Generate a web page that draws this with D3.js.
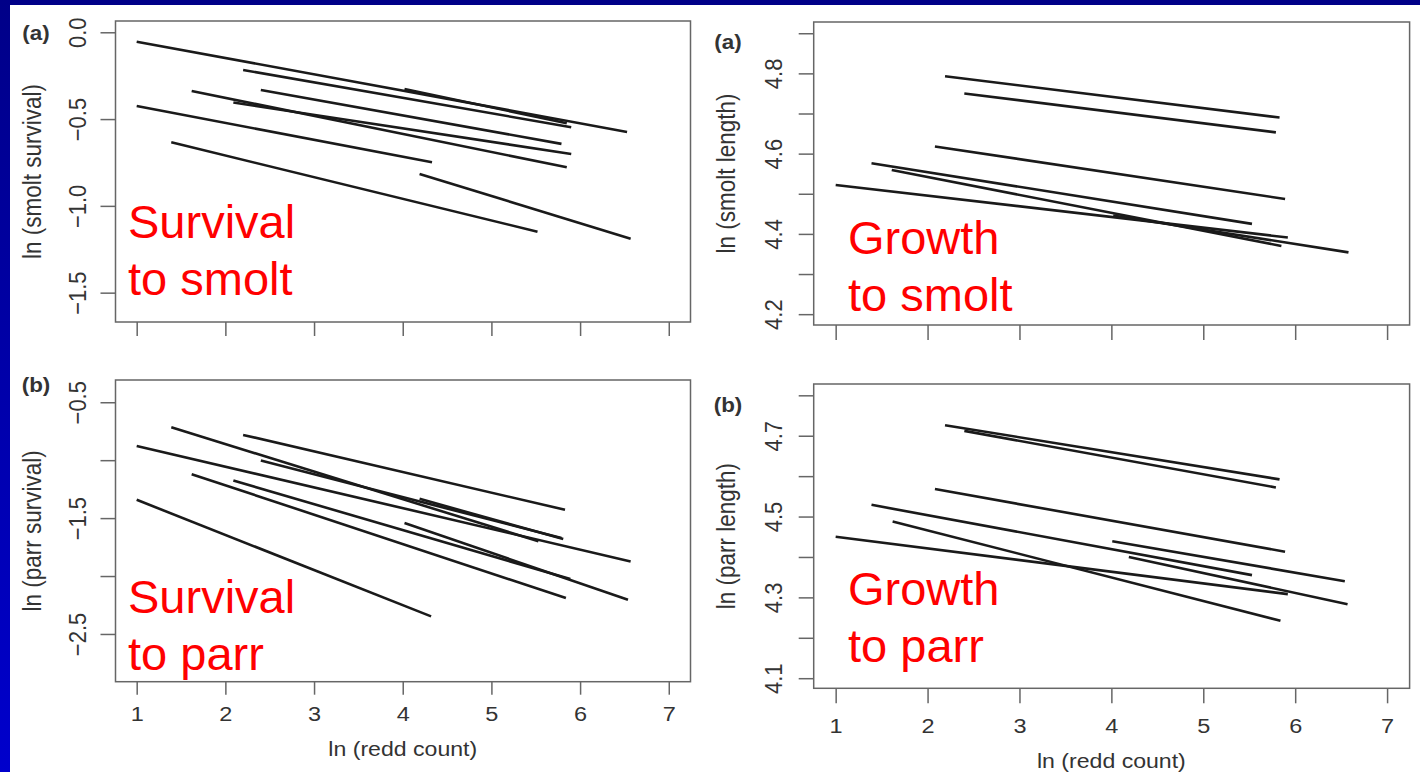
<!DOCTYPE html>
<html>
<head>
<meta charset="utf-8">
<style>
  body { margin: 0; background: #fff; }
  svg { display: block; }
  text { font-family: "Liberation Sans", Arial, sans-serif; }
</style>
</head>
<body>
<svg width="1420" height="772"></svg>
<script src="https://cdnjs.cloudflare.com/ajax/libs/d3/7.8.5/d3.min.js"></script>
<script>

// ---- data: each row is one fitted line, [x start, y start, x end, y end] ----
var xTicks = [1, 2, 3, 4, 5, 6, 7];

var smoltSurvival = [
  [1.00, -0.054, 6.53, -0.574],
  [2.20, -0.217, 5.90, -0.547],
  [4.02, -0.327, 5.85, -0.524],
  [2.40, -0.332, 5.79, -0.643],
  [1.62, -0.338, 5.85, -0.778],
  [2.09, -0.405, 5.90, -0.701],
  [1.00, -0.425, 4.33, -0.749],
  [1.39, -0.634, 5.52, -1.149],
  [4.19, -0.816, 6.57, -1.189]
];

var parrSurvival = [
  [1.00, -0.877, 6.57, -1.874],
  [1.39, -0.716, 5.53, -1.700],
  [2.20, -0.782, 5.83, -1.428],
  [2.40, -1.003, 5.79, -1.672],
  [4.19, -1.334, 5.81, -1.680],
  [1.62, -1.121, 5.84, -2.190],
  [2.09, -1.176, 5.89, -2.026],
  [4.02, -1.543, 6.54, -2.204],
  [1.00, -1.342, 4.32, -2.348]
];

var smoltLength = [
  [2.19, 4.793, 5.83, 4.690],
  [2.40, 4.750, 5.79, 4.653],
  [2.08, 4.618, 5.89, 4.487],
  [1.39, 4.576, 5.53, 4.425],
  [1.61, 4.559, 5.85, 4.370],
  [1.00, 4.522, 5.92, 4.391],
  [4.02, 4.446, 6.58, 4.354]
];

var parrLength = [
  [2.19, 4.726, 5.83, 4.592],
  [2.40, 4.712, 5.79, 4.572],
  [2.08, 4.568, 5.89, 4.413],
  [1.39, 4.529, 5.53, 4.355],
  [1.62, 4.488, 5.84, 4.242],
  [1.00, 4.450, 5.92, 4.308],
  [4.01, 4.439, 6.54, 4.340],
  [4.19, 4.400, 6.57, 4.283]
];

var smoltSurvTicks = [0, -0.5, -1.0, -1.5];
var parrSurvTicks = [-0.5, -1.0, -1.5, -2.0, -2.5];
var parrSurvLabels = [-0.5, -1.5, -2.5];
var smoltLenTicks = [4.2, 4.3, 4.4, 4.5, 4.6, 4.7, 4.8, 4.9];
var smoltLenLabels = [4.2, 4.4, 4.6, 4.8];
var parrLenTicks = [4.1, 4.2, 4.3, 4.4, 4.5, 4.6, 4.7, 4.8];
var parrLenLabels = [4.1, 4.3, 4.5, 4.7];

var xTitle = "ln (redd count)";

// ---- layout ----
var svg = d3.select("svg");
var xDomain = [0.761, 7.245];
var stretch = 1.12;   // the R figure was pasted in a bit wider than tall

var defs = svg.append("defs");
var grad = defs.append("linearGradient").attr("id", "bg")
    .attr("x1", 0).attr("y1", 0).attr("x2", 0).attr("y2", 1);
grad.append("stop").attr("offset", "0%").attr("stop-color", "#000088");
grad.append("stop").attr("offset", "100%").attr("stop-color", "#0000cc");

svg.append("rect").attr("width", 1420).attr("height", 772).attr("fill", "url(#bg)");
svg.append("rect").attr("x", 10).attr("y", 5).attr("width", 1410).attr("height", 767).attr("fill", "#fff");

var panels = [
  { data: smoltSurvival, l: 115.5, r: 690.5, t: 21, b: 322, yDomain: [-1.669, 0.065],
    yTicks: smoltSurvTicks, yLabels: smoltSurvTicks, fmt: ".1f", yTitle: "ln (smolt survival)",
    tag: "(a)", tagX: 36, tagY: 33, yLabX: -38.5, yTitleX: -84, xTick: 14, xPad: 0, xLabels: false,
    note: ["Survival", "to smolt"], noteX: 128, noteY: 238 },
  { data: parrSurvival, l: 115.5, r: 690.5, t: 380, b: 681.7, yDomain: [-2.912, -0.308],
    yTicks: parrSurvTicks, yLabels: parrSurvLabels, fmt: ".1f", yTitle: "ln (parr survival)",
    tag: "(b)", tagX: 36, tagY: 385, yLabX: -38.5, yTitleX: -84, xTick: 13, xPad: 11, xLabels: true,
    xTitleY: 748, note: ["Survival", "to parr"], noteX: 128, noteY: 613 },
  { data: smoltLength, l: 813.7, r: 1409.6, t: 22, b: 325, yDomain: [4.173, 4.928],
    yTicks: smoltLenTicks, yLabels: smoltLenLabels, fmt: ".1f", yTitle: "ln (smolt length)",
    tag: "(a)", tagX: 728, tagY: 42, yLabX: -40.3, yTitleX: -88, xTick: 15, xPad: 0, xLabels: false,
    note: ["Growth", "to smolt"], noteX: 848, noteY: 254 },
  { data: parrLength, l: 813.7, r: 1409.6, t: 384, b: 688.3, yDomain: [4.075, 4.828],
    yTicks: parrLenTicks, yLabels: parrLenLabels, fmt: ".1f", yTitle: "ln (parr length)",
    tag: "(b)", tagX: 728, tagY: 405, yLabX: -40.3, yTitleX: -88, xTick: 15, xPad: 15, xLabels: true,
    xTitleY: 760, note: ["Growth", "to parr"], noteX: 848, noteY: 605 }
];

panels.forEach(drawPanel);

function drawPanel(p) {
  var g = svg.append("g");
  var x = d3.scaleLinear().domain(xDomain).range([p.l, p.r]);
  var y = d3.scaleLinear().domain(p.yDomain).range([p.b, p.t]);
  var fmt = d3.format(p.fmt);

  // fitted lines
  g.append("g").selectAll("line")
    .data(p.data)
    .join("line")
      .attr("x1", function(d) { return x(d[0]); })
      .attr("y1", function(d) { return y(d[1]); })
      .attr("x2", function(d) { return x(d[2]); })
      .attr("y2", function(d) { return y(d[3]); })
      .attr("stroke", "#1a1a1a")
      .attr("stroke-width", 2.6)
      .attr("stroke-linecap", "butt");

  // box
  g.append("rect")
    .attr("x", p.l).attr("y", p.t)
    .attr("width", p.r - p.l).attr("height", p.b - p.t)
    .attr("fill", "none").attr("stroke", "#666").attr("stroke-width", 1.5);

  // x axis
  var xa = g.append("g")
    .attr("transform", "translate(0," + p.b + ")")
    .call(d3.axisBottom(x).tickValues(xTicks).tickSize(p.xTick).tickPadding(p.xPad)
      .tickFormat(p.xLabels ? d3.format("d") : ""));
  xa.select(".domain").remove();
  xa.selectAll("line").attr("stroke", "#666").attr("stroke-width", 1.5);
  xa.selectAll("text").attr("font-size", 21).attr("fill", "#333")
    .attr("font-family", "Liberation Sans, Arial, sans-serif")
    .attr("transform", "scale(" + stretch + ",1)");

  // y axis
  var ya = g.append("g")
    .attr("transform", "translate(" + p.l + ",0)")
    .call(d3.axisLeft(y).tickValues(p.yTicks).tickSize(15)
      .tickFormat(function(d) { return p.yLabels.indexOf(d) >= 0 ? fmt(d) : ""; }));
  ya.select(".domain").remove();
  ya.selectAll("line").attr("stroke", "#666").attr("stroke-width", 1.5);
  ya.selectAll("text")
    .attr("x", 0).attr("y", 0).attr("dy", "0.36em")
    .attr("text-anchor", "middle")
    .attr("transform", "translate(" + p.yLabX + ",0) rotate(-90) scale(1," + stretch + ")")
    .attr("font-size", 22).attr("fill", "#333")
    .attr("font-family", "Liberation Sans, Arial, sans-serif");

  // y title
  g.append("text")
    .attr("transform", "translate(" + (p.l + p.yTitleX) + "," + ((p.t + p.b) / 2) + ") rotate(-90) scale(1," + stretch + ")")
    .attr("dy", "0.36em")
    .attr("text-anchor", "middle")
    .attr("font-size", 22.5).attr("fill", "#333")
    .text(p.yTitle);

  // x title
  if (p.xLabels) {
    g.append("text")
      .attr("transform", "translate(" + x(4) + "," + p.xTitleY + ") scale(1.1,1)")
      .attr("dy", "0.36em")
      .attr("text-anchor", "middle")
      .attr("font-size", 21).attr("fill", "#333")
      .text(xTitle);
  }

  // panel tag
  g.append("text")
    .attr("transform", "translate(" + p.tagX + "," + p.tagY + ") scale(" + stretch + ",1)")
    .attr("dy", "0.36em")
    .attr("text-anchor", "middle")
    .attr("font-size", 20).attr("font-weight", "bold").attr("fill", "#333")
    .text(p.tag);

  // red annotation
  var note = g.append("text")
    .attr("x", p.noteX).attr("y", p.noteY)
    .attr("font-size", 47).attr("fill", "#ff0000");
  note.selectAll("tspan")
    .data(p.note)
    .join("tspan")
      .attr("x", p.noteX)
      .attr("dy", function(d, i) { return i === 0 ? 0 : 57; })
      .text(function(d) { return d; });
}

</script>
</body>
</html>
